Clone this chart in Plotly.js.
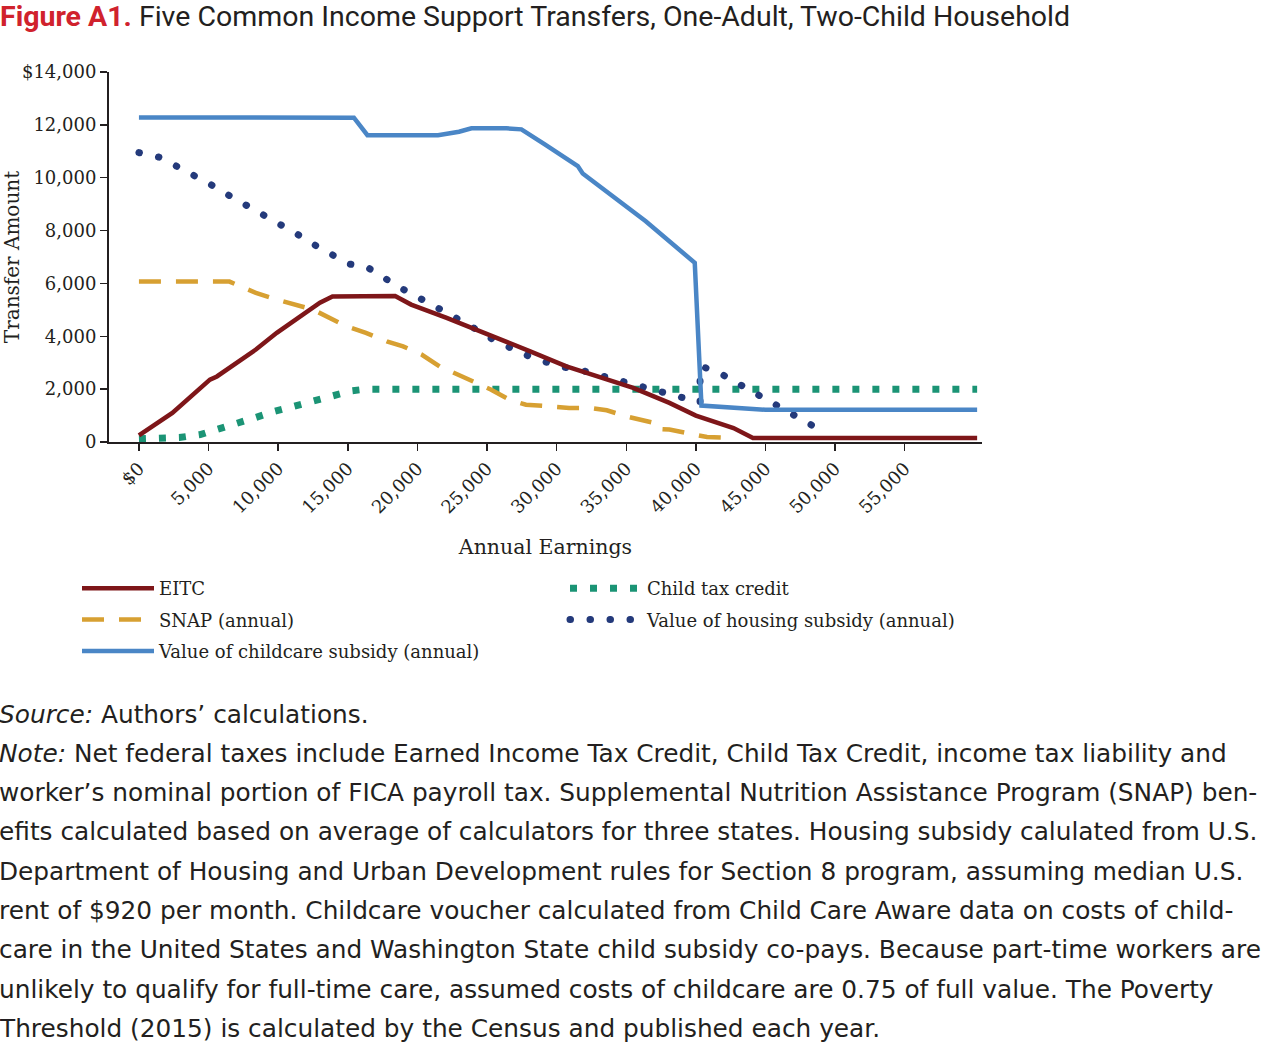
<!DOCTYPE html>
<html>
<head>
<meta charset="utf-8">
<script src="https://cdn.plot.ly/plotly-3.0.1.min.js"></script>
<style>
html,body{margin:0;padding:0;background:#fff;}
#chart{width:1280px;height:1045px;}
#chart path[style*="19.5px"]{stroke-linecap:round !important;}
</style>
</head>
<body>
<div id="chart"></div>
<script>
// ---------------- DATA ----------------
const eitcX = [0, 2400, 5100, 5600, 8400, 9900, 13000, 13900, 18400, 19550, 22100, 25200, 28100, 30700, 32900, 35500, 38100, 40000, 42700, 44100, 60200];
const eitcY = [250, 1100, 2360, 2480, 3500, 4130, 5270, 5510, 5520, 5200, 4700, 4060, 3430, 2860, 2480, 2050, 1480, 1000, 530, 150, 150];

const snapX = [0, 6500, 8400, 9900, 12500, 14900, 16300, 17800, 18970, 20300, 21600, 22900, 24100, 25300, 26600, 27800, 29500, 30900, 32400, 33600, 35000, 35900, 37000, 37200, 38100, 39600, 40800, 42700];
const snapY = [6070, 6070, 5640, 5390, 5010, 4380, 4130, 3810, 3620, 3310, 2860, 2550, 2300, 1980, 1600, 1410, 1350, 1290, 1290, 1200, 970, 870, 720, 500, 470, 310, 190, 150];

const childcareX = [0, 15440, 16410, 21480, 22990, 23880, 26390, 27470, 29150, 31520, 31870, 33090, 36400, 39920, 40400, 44100, 45000, 60200];
const childcareY = [12280, 12270, 11610, 11610, 11740, 11870, 11870, 11830, 11260, 10440, 10160, 9660, 8350, 6780, 1380, 1250, 1220, 1220];

const ctcX = [0, 1500, 2900, 4400, 5700, 7100, 8400, 9750, 11200, 12500, 13900, 15300, 16300, 60200];
const ctcY = [120, 120, 170, 280, 470, 690, 930, 1160, 1350, 1540, 1730, 1940, 2000, 2000];

const housingX = [0, 1440, 2690, 3950, 5200, 6440, 7670, 8910, 10160, 11380, 12570, 13820, 15060, 16400, 17580, 18780, 20000, 21300, 22560, 23760, 25000, 26270, 27540, 28860, 30220, 31590, 32970, 34340, 35730, 37100, 38430, 39850, 40300, 40300, 40570, 41600, 42840, 44100, 45360, 46550, 47780, 49020];
const housingY = [10950, 10780, 10440, 10100, 9730, 9340, 8980, 8650, 8270, 7860, 7470, 7110, 6740, 6610, 6210, 5830, 5490, 5140, 4800, 4410, 4000, 3660, 3340, 3090, 2860, 2740, 2540, 2320, 2140, 1940, 1750, 1560, 1500, 2830, 2830, 2640, 2270, 1910, 1540, 1160, 810, 430];

const seriesNames = ["EITC", "SNAP (annual)", "Value of childcare subsidy (annual)", "Child tax credit", "Value of housing subsidy (annual)"];

const xTickVals = [0, 5000, 10000, 15000, 20000, 25000, 30000, 35000, 40000, 45000, 50000, 55000];
const xTickText = ["$0", "5,000", "10,000", "15,000", "20,000", "25,000", "30,000", "35,000", "40,000", "45,000", "50,000", "55,000"];
const yTickVals = [0, 2000, 4000, 6000, 8000, 10000, 12000, 14000];
const yTickText = ["0", "2,000", "4,000", "6,000", "8,000", "10,000", "12,000", "$14,000"];

const titleText = '<span style="color:#d0222d;font-weight:bold">Figure A1.</span> Five Common Income Support Transfers, One-Adult, Two-Child Household';
const noteLines = [
  "<i>Source:</i> Authors’ calculations.",
  "<i>Note:</i> Net federal taxes include Earned Income Tax Credit, Child Tax Credit, income tax liability and",
  "worker’s nominal portion of FICA payroll tax. Supplemental Nutrition Assistance Program (SNAP) ben-",
  "efits calculated based on average of calculators for three states. Housing subsidy calulated from U.S.",
  "Department of Housing and Urban Development rules for Section 8 program, assuming median U.S.",
  "rent of $920 per month. Childcare voucher calculated from Child Care Aware data on costs of child-",
  "care in the United States and Washington State child subsidy co-pays. Because part-time workers are",
  "unlikely to qualify for full-time care, assumed costs of childcare are 0.75 of full value. The Poverty",
  "Threshold (2015) is calculated by the Census and published each year."
];

// ---------------- LAYOUT HELPERS ----------------
const W = 1280, H = 1045;
const PL = 109, PR = 982, PT = 72, PB = 442;
function fx(p) { return (p - PL) / (PR - PL); }
function fy(p) { return (PB - p) / (PB - PT); }

const ink = '#231f20';
const serif = 'DejaVu Serif, serif';
const sans = 'Roboto, Arial, sans-serif';
const noteSans = 'DejaVu Sans, Open Sans, sans-serif';

const traces = [
  {x: ctcX, y: ctcY, name: seriesNames[3], mode: 'lines', legend: 'legend2', legendgroup: 'g4', legendrank: 1,
   line: {color: '#1b9475', width: 7, dash: '7px,13px'}},
  {x: housingX, y: housingY, name: seriesNames[4], mode: 'lines', legend: 'legend2', legendgroup: 'g5', legendrank: 2,
   line: {color: '#243a7b', width: 7, dash: '0.5px,19.5px'}},
  {x: snapX, y: snapY, name: seriesNames[1], mode: 'lines', legend: 'legend', legendgroup: 'g2', legendrank: 2,
   line: {color: '#d7a032', width: 4.5, dash: '22px,15px'}},
  {x: childcareX, y: childcareY, name: seriesNames[2], mode: 'lines', legend: 'legend', legendgroup: 'g3', legendrank: 3,
   line: {color: '#4a86c6', width: 4.5}},
  {x: eitcX, y: eitcY, name: seriesNames[0], mode: 'lines', legend: 'legend', legendgroup: 'g1', legendrank: 1,
   line: {color: '#7e1619', width: 4.5}}
];

const annotations = noteLines.map((t, i) => ({
  xref: 'paper', yref: 'paper', x: fx(-3), y: fy(714 + 39.3 * i),
  xanchor: 'left', yanchor: 'middle', align: 'left', showarrow: false,
  text: t, font: {family: noteSans, size: 24.8, color: ink}
}));

const legendCommon = {
  orientation: 'v', traceorder: 'grouped', tracegroupgap: 5, itemwidth: 72,
  font: {family: serif, size: 18, color: ink}, bgcolor: 'rgba(0,0,0,0)',
  xanchor: 'left', yanchor: 'top', itemclick: false, itemdoubleclick: false
};

const layout = {
  width: W, height: H,
  margin: {l: PL, r: W - PR, t: PT, b: H - PB, pad: 0},
  paper_bgcolor: '#ffffff', plot_bgcolor: '#ffffff',
  showlegend: true,
  title: {text: titleText, font: {family: sans, size: 28.5, color: ink},
          xref: 'container', yref: 'container', x: 0, xanchor: 'left', y: 1 - 16 / H, yanchor: 'middle', pad: {t: 0, b: 0, l: 0, r: 0}},
  xaxis: {
    range: [-2150, 60550], automargin: false,
    tickmode: 'array', tickvals: xTickVals, ticktext: xTickText, tickangle: -45,
    ticks: 'outside', ticklen: 7, tickwidth: 1.5, tickcolor: ink,
    showline: true, linecolor: ink, linewidth: 2, showgrid: false, zeroline: false,
    tickfont: {family: serif, size: 18, color: ink},
    title: {text: 'Annual Earnings', font: {family: serif, size: 20.5, color: ink}, standoff: 23}
  },
  yaxis: {
    range: [0, 14000], automargin: false,
    tickmode: 'array', tickvals: yTickVals, ticktext: yTickText,
    ticks: 'outside', ticklen: 7, tickwidth: 1.5, tickcolor: ink,
    showline: true, linecolor: ink, linewidth: 2, showgrid: false, zeroline: false,
    tickfont: {family: serif, size: 18, color: ink},
    title: {text: 'Transfer Amount', font: {family: serif, size: 20, color: ink}, standoff: 5}
  },
  legend: Object.assign({}, legendCommon, {x: fx(77), y: fy(570)}),
  legend2: Object.assign({}, legendCommon, {x: fx(565), y: fy(570)}),
  annotations: annotations
};

Plotly.newPlot('chart', traces, layout, {displayModeBar: false, staticPlot: true}).then(function () {
  // round dots for the housing-subsidy dotted line (plot and legend)
  const gd = document.getElementById('chart');
  gd.querySelectorAll('path').forEach(function (p) {
    const da = p.style.strokeDasharray || '';
    if (da.indexOf('19.5') !== -1) p.style.strokeLinecap = 'round';
  });
});
</script>
</body>
</html>
